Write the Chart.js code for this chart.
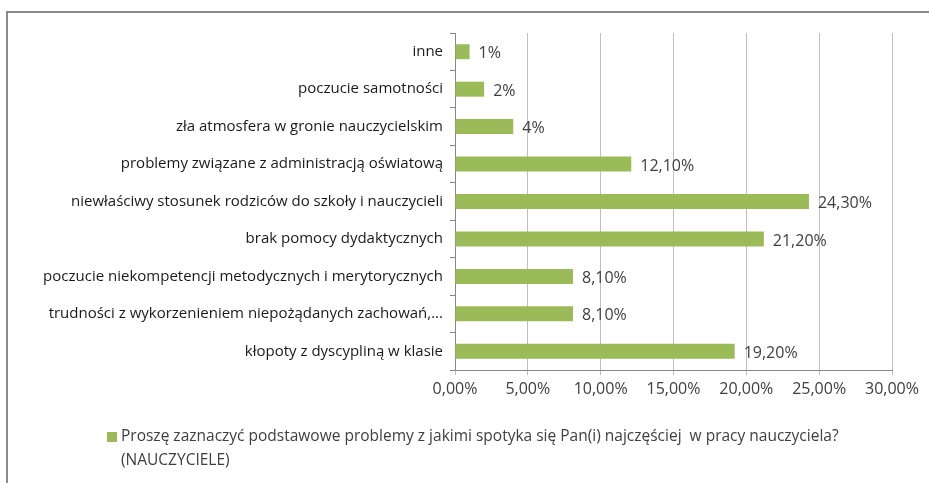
<!DOCTYPE html>
<html>
<head>
<meta charset="utf-8">
<script src="https://cdn.jsdelivr.net/npm/chart.js@4/dist/chart.umd.min.js"></script>
<style>
  html, body { margin: 0; padding: 0; background: #fff; }
  #wrap { position: relative; width: 929px; height: 483px; overflow: hidden; }
  #frame { position: absolute; left: 6px; top: 11px; width: 1000px; height: 1000px;
           border-top: 2px solid #8a8a8a; border-left: 2px solid #8a8a8a; box-sizing: border-box; }
  #chartCanvas { position: absolute; left: 0; top: 0; }
</style>
</head>
<body>
<div id="wrap">
  <div id="frame"></div>
  <canvas id="chartCanvas" width="929" height="483"></canvas>
</div>
<script>
const kategorie = [
  "inne",
  "poczucie samotności",
  "zła atmosfera w gronie nauczycielskim",
  "problemy związane z administracją oświatową",
  "niewłaściwy stosunek rodziców do szkoły i nauczycieli",
  "brak pomocy dydaktycznych",
  "poczucie niekompetencji metodycznych i merytorycznych",
  "trudności z wykorzenieniem niepożądanych zachowań,...",
  "kłopoty z dyscypliną w klasie"
];
const wartosci = [1, 2, 4, 12.1, 24.3, 21.2, 8.1, 8.1, 19.2];
const etykiety = ["1%", "2%", "4%", "12,10%", "24,30%", "21,20%", "8,10%", "8,10%", "19,20%"];
const podpisyOsi = ["0,00%", "5,00%", "10,00%", "15,00%", "20,00%", "25,00%", "30,00%"];
const legendaLinie = [
  "Proszę zaznaczyć podstawowe problemy z jakimi spotyka się Pan(i) najczęściej  w pracy nauczyciela?",
  "(NAUCZYCIELE)"
];

const czcionka = "'Open Sans', 'Noto Sans', sans-serif";
const zielony = "#9bbb59";

const etykietyWartosci = {
  id: "etykietyWartosci",
  afterDatasetsDraw(chart) {
    const ctx = chart.ctx;
    const meta = chart.getDatasetMeta(0);
    ctx.save();
    ctx.font = "16px " + czcionka;
    ctx.fillStyle = "#404040";
    ctx.textBaseline = "middle";
    ctx.textAlign = "left";
    meta.data.forEach((bar, i) => {
      ctx.fillText(etykiety[i], bar.x + 9, bar.y + 2);
    });
    ctx.restore();
  }
};

const legenda = {
  id: "legenda",
  afterDraw(chart) {
    const ctx = chart.ctx;
    ctx.save();
    ctx.fillStyle = zielony;
    ctx.fillRect(107, 432, 10, 10);
    ctx.font = "15.5px " + czcionka;
    ctx.fillStyle = "#404040";
    ctx.textBaseline = "middle";
    ctx.textAlign = "left";
    ctx.fillText(legendaLinie[0], 121, 437);
    ctx.fillText(legendaLinie[1], 121, 461);
    ctx.restore();
  }
};

const ctx = document.getElementById("chartCanvas").getContext("2d");
const chart = new Chart(ctx, {
  type: "bar",
  data: {
    labels: kategorie,
    datasets: [{
      data: wartosci,
      backgroundColor: zielony,
      borderWidth: 0,
      barPercentage: 0.4,
      categoryPercentage: 1.0
    }]
  },
  options: {
    indexAxis: "y",
    responsive: false,
    animation: false,
    layout: { padding: { top: 33, right: 37, left: 0, bottom: 0 } },
    plugins: {
      legend: { display: false },
      tooltip: { enabled: false }
    },
    scales: {
      x: {
        min: 0,
        max: 30,
        afterFit(scale) { scale.height = 113; },
        afterBuildTicks(scale) {
          scale.ticks = podpisyOsi.map((_, i) => ({ value: i * 5 }));
        },
        grid: { color: "#bfbfbf", lineWidth: 1, tickLength: 5 },
        border: { color: "#868686", width: 1 },
        ticks: {
          padding: 5,
          color: "#404040",
          font: { family: czcionka, size: 16 },
          callback: (v, i) => podpisyOsi[i]
        }
      },
      y: {
        afterFit(scale) { scale.width = 455; },
        grid: { drawOnChartArea: false, color: "#868686", tickLength: 5, offset: true },
        border: { color: "#868686", width: 1 },
        ticks: {
          padding: 7,
          color: "#1a1a1a",
          font: { family: czcionka, size: 15 }
        }
      }
    }
  },
  plugins: [etykietyWartosci, legenda]
});
</script>
</body>
</html>
